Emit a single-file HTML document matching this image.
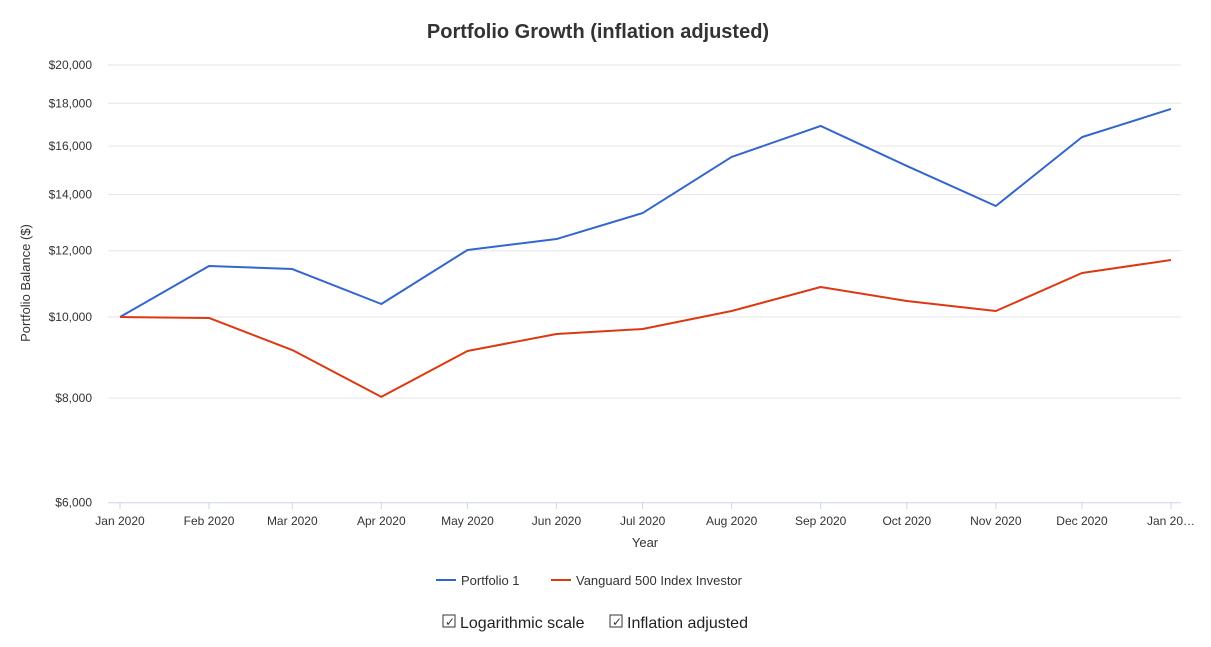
<!DOCTYPE html>
<html><head><meta charset="utf-8"><style>
body{margin:0;background:#fff;font-family:"Liberation Sans",Arial,sans-serif;}
svg text{font-family:"Liberation Sans",Arial,sans-serif;}
</style></head><body>
<svg id="c" width="1211" height="642">
<text x="598" y="38" text-anchor="middle" font-size="20" font-weight="bold" fill="#333">Portfolio Growth (inflation adjusted)</text>
<g id="grid"></g><g id="series"></g>
<text transform="translate(30,283) rotate(-90)" text-anchor="middle" font-size="13" fill="#333">Portfolio Balance ($)</text>
<text x="645" y="547" text-anchor="middle" font-size="13" fill="#333">Year</text>
<g><line x1="436" y1="580" x2="456" y2="580" stroke="#3366cc" stroke-width="2"/><text x="461" y="585" font-size="13" fill="#333">Portfolio 1</text></g>
<g><line x1="551" y1="580" x2="571" y2="580" stroke="#dc3912" stroke-width="2"/><text x="576" y="585" font-size="13" fill="#333">Vanguard 500 Index Investor</text></g>
<g><rect x="443" y="615" width="12" height="12" fill="none" stroke="#333"/><text x="445" y="626" font-size="12" fill="#333">✓</text><text x="460" y="628" font-size="16" fill="#222">Logarithmic scale</text></g>
<g><rect x="610" y="615" width="12" height="12" fill="none" stroke="#333"/><text x="612" y="626" font-size="12" fill="#333">✓</text><text x="627" y="628" font-size="16" fill="#222">Inflation adjusted</text></g>
</svg>
<script>
const months=["Jan 2020","Feb 2020","Mar 2020","Apr 2020","May 2020","Jun 2020","Jul 2020","Aug 2020","Sep 2020","Oct 2020","Nov 2020","Dec 2020","Jan 20…"];
const dayOffsets=[0,31,60,91,121,152,182,213,244,274,305,335,366];
const portfolio1=[10000,11506,11410,10364,12024,12392,13310,15530,16912,15150,13570,16400,17720];
const vanguard=[10000,9973,9132,8028,9107,9543,9675,10166,10860,10450,10166,11287,11697];
const yTicks=[6000,8000,10000,12000,14000,16000,18000,20000];
const NS="http://www.w3.org/2000/svg";
function xs(d){return 120+d*(1051/366);}
function ys(v){return 317-Math.log(v/10000)*363.6;}
const grid=document.getElementById('grid'),ser=document.getElementById('series');
function mk(tag,attrs,parent){const e=document.createElementNS(NS,tag);for(const k in attrs)e.setAttribute(k,attrs[k]);parent.appendChild(e);return e;}
yTicks.forEach(v=>{
  const y=ys(v);
  const l=mk('line',{x1:108,x2:1181,y1:y,y2:y,stroke:v===6000?'#ccd6eb':'#e6e6e6'},grid);
  
  
  const t=mk('text',{x:92,y:y+4,'text-anchor':'end','font-size':12,fill:'#333'},grid);
  t.textContent='$'+v.toLocaleString('en-US');
  
  
});
months.forEach((m,i)=>{
  const x=xs(dayOffsets[i]);
  mk('line',{x1:x,x2:x,y1:502,y2:509,stroke:'#ccd6eb'},grid);
  const t=mk('text',{x:x,y:525,'text-anchor':'middle','font-size':12,fill:'#333'},grid);
  t.textContent=m;
  
  
});
[[portfolio1,'#3366cc','portfolio-1-line'],[vanguard,'#dc3912','vanguard-500-line']].forEach(([d,c,n])=>{
  const p=mk('polyline',{points:d.map((v,i)=>xs(dayOffsets[i])+','+ys(v)).join(' '),fill:'none',stroke:c,'stroke-width':2,'stroke-linejoin':'round'},ser);
  
  
});
</script>
</body></html>
